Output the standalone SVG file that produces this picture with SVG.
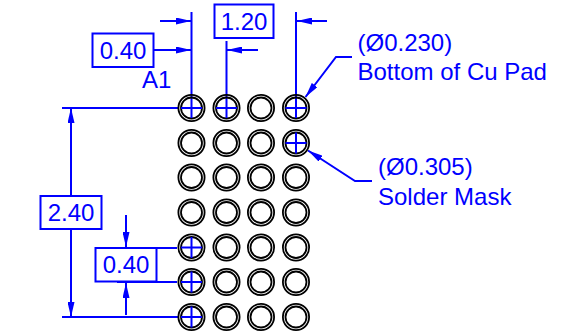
<svg xmlns="http://www.w3.org/2000/svg" width="561" height="333" viewBox="0 0 561 333">
<defs>
<marker id="a" viewBox="0 0 15 7" markerWidth="15" markerHeight="7" refX="15" refY="3.500" orient="auto-start-reverse" markerUnits="userSpaceOnUse"><path d="M0 0L15 3.500L0 7Z" fill="#0000ff"/></marker>
</defs>
<style>
.c{fill:none;stroke:#0000ff;stroke-width:2}
.t{font-family:"Liberation Sans",Arial,sans-serif;fill:#0000ff;font-size:24px}
.b{fill:#fff;stroke:#0000ff;stroke-width:2}
.o{fill:none;stroke:#000;stroke-width:1.800}
</style>
<rect width="561" height="333" fill="#fff"/>
<g id="connectors">
<path class="c" d="M191.500 12V108M226.500 41V108M296 12V108M62 108H178M62 317H178M117 248H177M117 282H177"/>
<path class="c" d="M160 21H191" marker-end="url(#a)"/>
<path class="c" d="M154 50H191" marker-end="url(#a)"/>
<path class="c" d="M258 50H227" marker-end="url(#a)"/>
<path class="c" d="M327 21H297" marker-end="url(#a)"/>
<path class="c" d="M71 108V196" marker-start="url(#a)"/>
<path class="c" d="M71 229V317" marker-end="url(#a)"/>
<path class="c" d="M126 215V247" marker-end="url(#a)"/>
<path class="c" d="M126 315V283" marker-end="url(#a)"/>
<path class="c" d="M352 57H336L305.500 97" marker-end="url(#a)"/>
<path class="c" d="M372 181H355L308 150.500" marker-end="url(#a)"/>
</g>
<g id="pads">
<g id="r0" class="o"><circle cx="191.500" cy="108" r="13.100"/><circle cx="191.500" cy="108" r="10.500"/><circle cx="226.500" cy="108" r="13.100"/><circle cx="226.500" cy="108" r="10.500"/><circle cx="261" cy="108" r="13.100"/><circle cx="261" cy="108" r="10.500"/><circle cx="296" cy="108" r="13.100"/><circle cx="296" cy="108" r="10.500"/></g>
<g id="r1" class="o"><circle cx="191.500" cy="143" r="13.100"/><circle cx="191.500" cy="143" r="10.500"/><circle cx="226.500" cy="143" r="13.100"/><circle cx="226.500" cy="143" r="10.500"/><circle cx="261" cy="143" r="13.100"/><circle cx="261" cy="143" r="10.500"/><circle cx="296" cy="143" r="13.100"/><circle cx="296" cy="143" r="10.500"/></g>
<g id="r2" class="o"><circle cx="191.500" cy="177.500" r="13.100"/><circle cx="191.500" cy="177.500" r="10.500"/><circle cx="226.500" cy="177.500" r="13.100"/><circle cx="226.500" cy="177.500" r="10.500"/><circle cx="261" cy="177.500" r="13.100"/><circle cx="261" cy="177.500" r="10.500"/><circle cx="296" cy="177.500" r="13.100"/><circle cx="296" cy="177.500" r="10.500"/></g>
<g id="r3" class="o"><circle cx="191.500" cy="212.500" r="13.100"/><circle cx="191.500" cy="212.500" r="10.500"/><circle cx="226.500" cy="212.500" r="13.100"/><circle cx="226.500" cy="212.500" r="10.500"/><circle cx="261" cy="212.500" r="13.100"/><circle cx="261" cy="212.500" r="10.500"/><circle cx="296" cy="212.500" r="13.100"/><circle cx="296" cy="212.500" r="10.500"/></g>
<g id="r4" class="o"><circle cx="191.500" cy="247.500" r="13.100"/><circle cx="191.500" cy="247.500" r="10.500"/><circle cx="226.500" cy="247.500" r="13.100"/><circle cx="226.500" cy="247.500" r="10.500"/><circle cx="261" cy="247.500" r="13.100"/><circle cx="261" cy="247.500" r="10.500"/><circle cx="296" cy="247.500" r="13.100"/><circle cx="296" cy="247.500" r="10.500"/></g>
<g id="r5" class="o"><circle cx="191.500" cy="282" r="13.100"/><circle cx="191.500" cy="282" r="10.500"/><circle cx="226.500" cy="282" r="13.100"/><circle cx="226.500" cy="282" r="10.500"/><circle cx="261" cy="282" r="13.100"/><circle cx="261" cy="282" r="10.500"/><circle cx="296" cy="282" r="13.100"/><circle cx="296" cy="282" r="10.500"/></g>
<g id="r6" class="o"><circle cx="191.500" cy="317" r="13.100"/><circle cx="191.500" cy="317" r="10.500"/><circle cx="226.500" cy="317" r="13.100"/><circle cx="226.500" cy="317" r="10.500"/><circle cx="261" cy="317" r="13.100"/><circle cx="261" cy="317" r="10.500"/><circle cx="296" cy="317" r="13.100"/><circle cx="296" cy="317" r="10.500"/></g>
</g>
<g id="crosses">
<path class="c" d="M191.500 108V118M181 108H202M226.500 108V118M216 108H237M296 108V118M285.500 108H306.500M296 132.500V153.500M285.500 143H306.500M191.500 237V258M181 247.500H202M191.500 271.500V292.500M181 282H202M191.500 306.500V327.500M181 317H202"/>
</g>
<g id="dim-040-top"><rect class="b" x="92.500" y="33.500" width="61" height="33.500"/><text class="t" x="123" y="59" text-anchor="middle">0.40</text></g>
<g id="dim-120"><rect class="b" x="214.500" y="4.500" width="59" height="33.500"/><text class="t" x="244" y="30" text-anchor="middle">1.20</text></g>
<g id="dim-240"><rect class="b" x="40.500" y="196" width="61" height="33"/><text class="t" x="71" y="221" text-anchor="middle">2.40</text></g>
<g id="dim-040-left"><rect class="b" x="95.500" y="248" width="61" height="33.500"/><text class="t" x="126" y="273" text-anchor="middle">0.40</text></g>
<g id="label-a1"><text class="t" x="142" y="88">A1</text></g>
<g id="label-pad"><text class="t" x="357.500" y="51">(Ø0.230)</text><text class="t" x="357.500" y="80">Bottom of Cu Pad</text></g>
<g id="label-mask"><text class="t" x="378" y="175">(Ø0.305)</text><text class="t" x="378" y="205">Solder Mask</text></g>
</svg>
